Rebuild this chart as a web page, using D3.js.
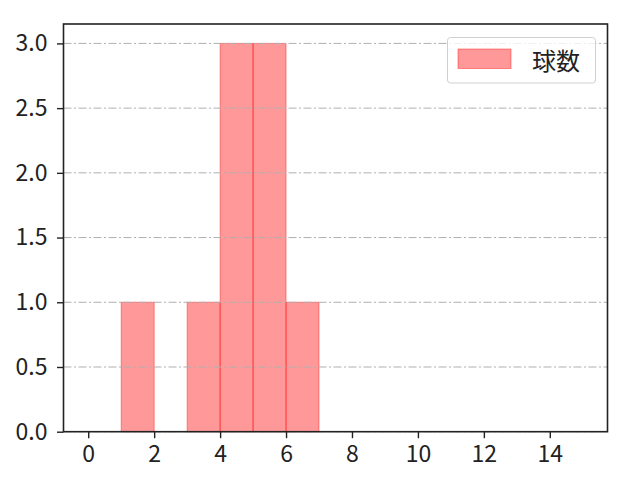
<!DOCTYPE html>
<html><head><meta charset="utf-8">
<script src="https://cdn.jsdelivr.net/npm/d3@7"></script>
<style>body{margin:0;background:#fff}svg{display:block}</style>
</head><body>
<script>
const binStarts = [1, 3, 4, 5, 6];
const binEnds = [2, 4, 5, 6, 7];
const counts = [1, 1, 3, 3, 1];
const xTicks = [0, 2, 4, 6, 8, 10, 12, 14];
const yTicks = [0.0, 0.5, 1.0, 1.5, 2.0, 2.5, 3.0];
const seriesName = "球数";

const W = 640, H = 480;
const m = {left: 63.5, right: 607.5, top: 24, bottom: 431.7};
const font = "'Noto Sans CJK JP', 'Noto Sans', sans-serif";
const svg = d3.select("body").append("svg").attr("width", W).attr("height", H);
const x = d3.scaleLinear().domain([-0.75, 15.75]).range([m.left, m.right]);
const y = d3.scaleLinear().domain([0, 3.15]).range([m.bottom, m.top]);

// bars
svg.append("g").selectAll("rect").data(counts).join("rect")
  .attr("x", (d, i) => x(binStarts[i]))
  .attr("width", (d, i) => x(binEnds[i]) - x(binStarts[i]))
  .attr("y", d => y(d))
  .attr("height", d => y(0) - y(d))
  .attr("fill", "rgb(255,0,0)").attr("fill-opacity", 0.4)
  .attr("stroke", "rgb(255,0,0)").attr("stroke-opacity", 0.4).attr("stroke-width", 1);

// grid (on top)
svg.append("g").selectAll("line").data(yTicks).join("line")
  .attr("x1", m.left).attr("x2", m.right)
  .attr("y1", d => y(d)).attr("y2", d => y(d))
  .attr("stroke", "#b0b0b0").attr("stroke-width", 1)
  .attr("stroke-dasharray", "8,2.5,2,2.5");

// axes
const xAxis = d3.axisBottom(x).tickValues(xTicks).tickFormat(d3.format("d")).tickSize(6.5).tickPadding(7.5);
const gx = svg.append("g").attr("transform", `translate(0,${m.bottom})`).call(xAxis);
const yAxis = d3.axisLeft(y).tickValues(yTicks).tickFormat(d3.format(".1f")).tickSize(6.5).tickPadding(9.5);
const gy = svg.append("g").attr("transform", `translate(${m.left},0)`).call(yAxis);
[gx, gy].forEach(g => {
  g.select(".domain").remove();
  g.selectAll(".tick line").attr("stroke", "#222").attr("stroke-width", 1.4);
  g.selectAll(".tick text").attr("font-family", font).attr("font-size", 23).attr("fill", "#222");
});

// frame
svg.append("rect").attr("x", m.left).attr("y", m.top)
  .attr("width", m.right - m.left).attr("height", m.bottom - m.top)
  .attr("fill", "none").attr("stroke", "#222").attr("stroke-width", 1.6);

// legend
const lg = svg.append("g");
lg.append("rect").attr("x", 447.5).attr("y", 37.5).attr("width", 148).attr("height", 45.5).attr("rx", 3)
  .attr("fill", "#fff").attr("fill-opacity", 0.8).attr("stroke", "#d0d0d0").attr("stroke-width", 1);
lg.append("rect").attr("x", 458).attr("y", 49).attr("width", 53).attr("height", 19.5)
  .attr("fill", "rgb(255,0,0)").attr("fill-opacity", 0.4)
  .attr("stroke", "rgb(255,0,0)").attr("stroke-opacity", 0.4);
lg.append("text").attr("x", 532).attr("y", 59).attr("dominant-baseline", "central")
  .attr("font-family", font).attr("font-size", 24).attr("fill", "#222").text(seriesName);
</script>
</body></html>
